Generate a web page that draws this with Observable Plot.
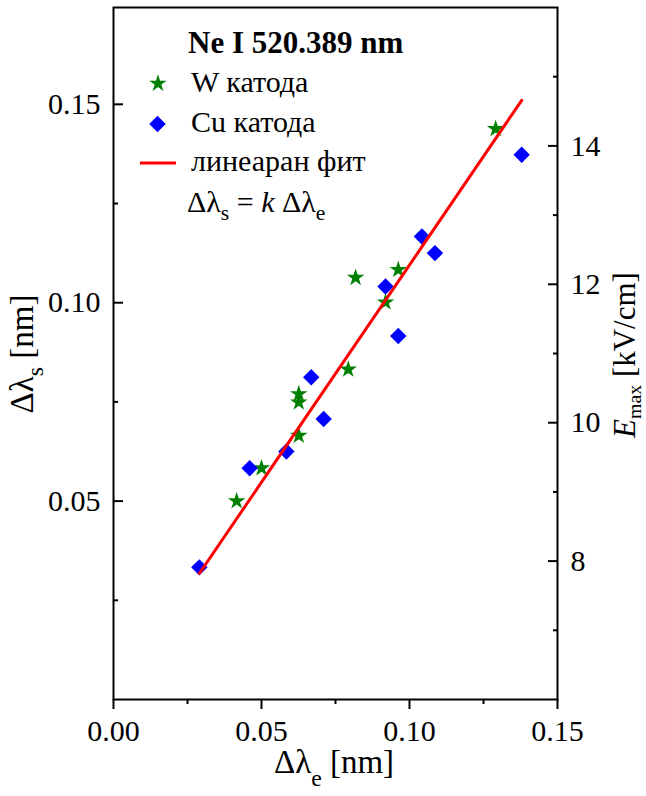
<!DOCTYPE html>
<html>
<head>
<meta charset="utf-8">
<script src="https://cdn.jsdelivr.net/npm/d3@7"></script>
<script src="https://cdn.jsdelivr.net/npm/@observablehq/plot@0.6"></script>
<style>
  html, body { margin: 0; padding: 0; background: #fff; }
  #chart svg { display: block; }
</style>
</head>
<body>
<div id="chart"></div>
<script>
// Stark shift vs. electric-field shift, Ne I 520.389 nm line
const wCathodeX  = [0.0416, 0.0500, 0.0626, 0.0626, 0.0626, 0.0793, 0.0818, 0.0919, 0.0962, 0.1291];
const wCathodeY  = [0.0500, 0.0583, 0.0665, 0.0749, 0.0770, 0.0832, 0.1063, 0.1001, 0.1083, 0.1438];
const cuCathodeX = [0.0290, 0.0460, 0.0584, 0.0668, 0.0710, 0.0919, 0.0962, 0.1042, 0.1086, 0.1379];
const cuCathodeY = [0.0333, 0.0583, 0.0625, 0.0812, 0.0707, 0.1041, 0.0916, 0.1167, 0.1125, 0.1373];

// linear fit Δλs = k·Δλe over the measured range
const fitSlope = 1.095;
const fitRange = [0.0290, 0.1379];

const xDomain = [0, 0.15];
const yDomain = [0, 0.1744];
const eDomain = [6, 16];          // right axis, E_max in kV/cm

const xTicks = [0, 0.05, 0.10, 0.15];
const xMinorTicks = [0.025, 0.075, 0.125];
const yTicks = [0.05, 0.10, 0.15];
const yMinorTicks = [0.025, 0.075, 0.125];
const eTicks = [8, 10, 12, 14];
const eMinorTicks = [7, 9, 11, 13, 15];

const legendTitle = "Ne I 520.389 nm";
const legendW = "W катода";
const legendCu = "Cu катода";
const legendFit = "линеаран фит";

const GREEN = "#008000", BLUE = "#0000ff", RED = "#ff0000";
const FONT = "'Liberation Serif', 'Times New Roman', serif";
const STAR_R = 5.5, DIAMOND_R = 7.4;

const wData = wCathodeX.map((x, i) => ({x, y: wCathodeY[i]}));
const cuData = cuCathodeX.map((x, i) => ({x, y: cuCathodeY[i]}));
const fitData = fitRange.map(x => ({x, y: fitSlope * x}));

// E_max value -> position on the Δλs scale
const eToY = e => yDomain[0] + (e - eDomain[0]) / (eDomain[1] - eDomain[0]) * (yDomain[1] - yDomain[0]);
const yToE = y => eDomain[0] + (y - yDomain[0]) / (yDomain[1] - yDomain[0]) * (eDomain[1] - eDomain[0]);

const fs = 30;
const blank = () => "";

const plot = Plot.plot({
  width: 646,
  height: 796,
  marginLeft: 113,
  marginRight: 89,
  marginTop: 7,
  marginBottom: 97,
  style: {fontFamily: FONT, fontSize: fs + "px", color: "#000", background: "#fff"},
  x: {domain: xDomain, label: null},
  y: {domain: yDomain, label: null},
  marks: [
    // bottom axis: outward ticks
    Plot.axisX({ticks: xTicks, tickSize: 10, tickPadding: 10, strokeWidth: 2, fontSize: fs,
                tickFormat: d3.format(".2f"), label: null}),
    Plot.axisX({ticks: xMinorTicks, tickSize: 5, strokeWidth: 2, tickFormat: blank, label: null}),
    // left axis: inward ticks
    Plot.axisY({ticks: yTicks, tickSize: 10, insetLeft: 10, strokeWidth: 2, tickFormat: blank, label: null}),
    Plot.axisY({ticks: yMinorTicks, tickSize: 5, insetLeft: 5, strokeWidth: 2, tickFormat: blank, label: null}),
    Plot.axisY({ticks: yTicks, tickSize: 0, tickPadding: 13, fontSize: fs,
                tickFormat: d3.format(".2f"), label: null}),
    // right axis (E_max): inward ticks
    Plot.axisY({anchor: "right", ticks: eTicks.map(eToY), tickSize: 10, insetRight: 10, strokeWidth: 2,
                tickFormat: blank, label: null}),
    Plot.axisY({anchor: "right", ticks: eMinorTicks.map(eToY), tickSize: 5, insetRight: 5, strokeWidth: 2,
                tickFormat: blank, label: null}),
    Plot.axisY({anchor: "right", ticks: eTicks.map(eToY), tickSize: 0, tickPadding: 13, fontSize: fs,
                tickFormat: v => d3.format("d")(Math.round(yToE(v))), label: null}),
    Plot.frame({stroke: "#000", strokeWidth: 2}),
    Plot.dot(wData, {x: "x", y: "y", symbol: "star", r: STAR_R, fill: GREEN, stroke: "none"}),
    Plot.dot(cuData, {x: "x", y: "y", symbol: "diamond2", r: DIAMOND_R, fill: BLUE, stroke: "none"}),
    Plot.line(fitData, {x: "x", y: "y", stroke: RED, strokeWidth: 3})
  ]
});

document.getElementById("chart").appendChild(plot);

// rich text (subscripts, italics) for titles and legend
const svg = d3.select(plot);

function richText(parts, {x, y, rotate = 0, anchor = "start", size = fs, weight = "normal",
                          subScale = 0.72, subShift = 0.28}) {
  const t = svg.append("text")
    .attr("transform", `translate(${x},${y}) rotate(${rotate})`)
    .attr("text-anchor", anchor)
    .attr("font-family", FONT)
    .attr("font-size", size)
    .attr("font-weight", weight)
    .attr("fill", "#000");
  let shift = 0;
  for (const p of parts) {
    const s = t.append("tspan").text(p.text);
    const target = p.sub ? size * subShift : 0;
    if (target !== shift) { s.attr("dy", target - shift); shift = target; }
    if (p.sub) s.attr("font-size", size * subScale);
    if (p.italic) s.attr("font-style", "italic");
  }
  return t;
}

// axis titles
richText([{text: "Δλ"}, {text: "e", sub: true}, {text: " [nm]"}],
         {x: 334, y: 773, anchor: "middle", size: 33, subScale: 0.72, subShift: 0.38});
richText([{text: "Δλ"}, {text: "s", sub: true}, {text: " [nm]"}],
         {x: 33, y: 354, rotate: -90, anchor: "middle", size: 33, subScale: 0.72, subShift: 0.3});
richText([{text: "E", italic: true}, {text: "max", sub: true}, {text: " [kV/cm]"}],
         {x: 635, y: 355, rotate: -90, anchor: "middle", size: 31, subScale: 0.64, subShift: 0.2});

// legend
richText([{text: legendTitle}], {x: 188, y: 53, size: 31, weight: "bold"});
svg.append("path")
  .attr("transform", "translate(158,83.5)")
  .attr("d", d3.symbol(d3.symbolStar, Math.PI * STAR_R * STAR_R)())
  .attr("fill", GREEN);
richText([{text: legendW}], {x: 191, y: 92, size: 30});
svg.append("path")
  .attr("transform", "translate(157.5,124)")
  .attr("d", d3.symbol(d3.symbolDiamond2, Math.PI * DIAMOND_R * DIAMOND_R)())
  .attr("fill", BLUE);
richText([{text: legendCu}], {x: 191, y: 132, size: 30});
svg.append("line")
  .attr("x1", 140).attr("x2", 176).attr("y1", 163).attr("y2", 163)
  .attr("stroke", RED).attr("stroke-width", 3);
richText([{text: legendFit}], {x: 191, y: 171, size: 30});
richText([{text: "Δλ"}, {text: "s", sub: true}, {text: " = "}, {text: "k", italic: true},
          {text: " Δλ"}, {text: "e", sub: true}], {x: 187, y: 212, size: 30});
</script>
</body>
</html>
